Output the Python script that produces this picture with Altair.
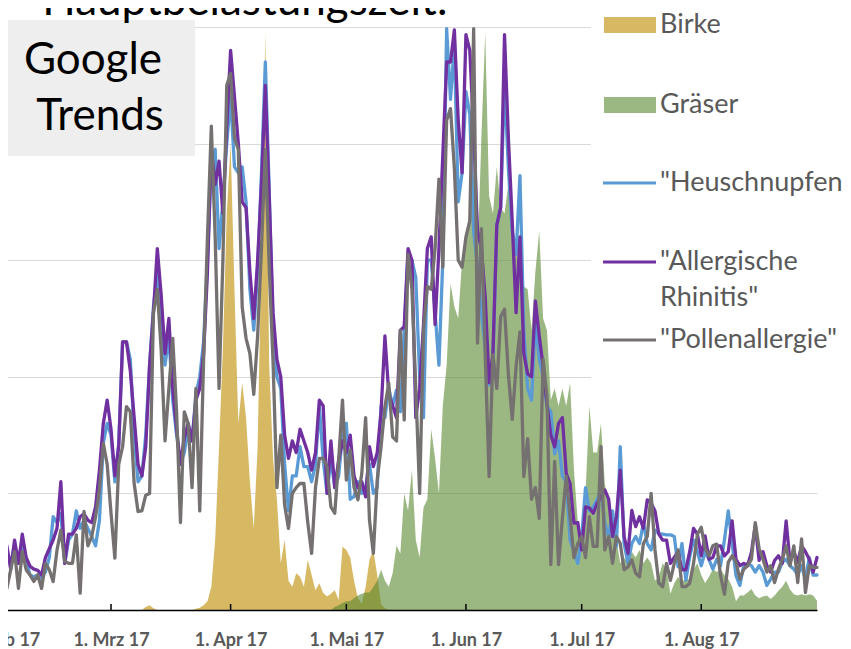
import altair as alt
import pandas as pd

# ---------------- data ----------------
start_date = "2017-02-01"
end_date = "2017-08-31"

# Pollen (Birke)
birke = ([0] * 37 + [0.5, 0.8, 0.3] + [0] * 10 +
         [0.2, 0.4, 0.8, 1.5, 4, 12, 28, 45, 68, 80,
          55, 32, 39, 33, 22, 14, 28, 62, 99, 42,
          26, 19, 8, 12, 5, 4, 6.3, 5.7, 4, 8.6,
          6, 3.4, 4.6, 2.9, 2.3, 2.8, 3.4, 1.7, 10.9, 10.3,
          9, 5, 2, 1.1, 4, 8.6, 10.3, 6, 1, 0.3] + [0] * 112)

# Pollen (Gräser)
graeser = ([0] * 86 +
           [0.5, 0.8, 1.2, 1.5, 1.5, 2, 2.5, 2.8, 3, 3, 4, 5, 6.9, 5, 4, 6.3, 11, 9.7, 20, 17, 24, 12] +
           [9, 17.6, 19, 31, 26, 20, 35, 42, 56, 52, 50, 60, 65, 68, 75, 60, 81, 99, 71, 68,
            76, 69, 68, 73, 64, 62, 58, 55.5, 55, 48, 58, 65, 50, 48, 36, 38] +
           [35, 38, 35, 39, 24, 15, 11.4, 20, 35, 27, 27, 32, 21.7, 18, 14, 12, 8, 9, 8, 10,
            9, 10.3, 8, 9, 8, 5, 5.7, 8, 7, 2.8, 4.6, 5.7, 4.6, 5.7, 5, 7, 8, 6, 4.6, 5.7] +
           [7, 6.5, 7, 6, 5.3, 4, 1.5, 2.5, 2.5, 3, 3.6, 2.5, 2, 2.3, 2.5, 1.9, 2.5, 3.3, 4, 5,
            3.5, 2.7, 2.5, 2.7, 2.5, 2.7, 2.5, 1.6])

# Google Trends "Heuschnupfen"
heuschnupfen = ([8, 10, 8, 11, 8, 12, 8.5, 6, 5.7, 6, 5.5, 6.5, 9, 16, 15, 16.5, 8, 12, 13, 17,
                 14, 15.4, 14, 12.6, 11, 15.4, 28.6, 32, 30, 22, 28.6, 46, 46, 43, 30, 22, 23, 30] +
                [42, 52, 58, 48, 42, 47, 36, 30, 25, 27, 31, 29, 37, 40, 46, 60, 77, 79, 62, 70,
                 80, 88, 76, 75, 76, 70, 55, 48, 58, 75, 94, 72, 48, 40, 38, 25, 17] +
                [23, 23, 28, 24.6, 24.6, 22, 25, 35, 25.7, 20, 26, 21, 23, 30, 32, 19, 19.5, 22, 20, 21,
                 25, 20, 21, 35, 33, 38, 35, 37.7, 34, 48, 61, 60, 57, 40, 33, 60] +
                [60, 51, 42, 60, 99.7, 87.6, 97, 70, 75, 88.9, 85, 65, 59, 51, 45, 38.6, 43, 66, 69, 90.8,
                 75.8, 65, 61, 74.5, 48, 38, 36, 49.7, 43, 40, 35, 34, 26.8] +
                [29, 23, 22, 12, 10, 8, 12.6, 21, 17, 17.7, 18.9, 20.6, 14.9, 12.6, 17, 10.9, 28, 11.4, 8, 11.4,
                 12.6, 11.4, 14.9, 11.4, 10.3, 13.7, 13.1, 13, 12.9, 12.9, 12.6, 7.4, 11.4, 5.1] +
                [9.1, 12, 10, 7.6, 10, 8.7, 7, 8.7, 7.6, 12, 17, 11.5, 5.9, 4.2, 7.6, 8, 7.6, 6.5, 7.6, 6.5,
                 4.2, 5.3, 6.5, 6.5, 8.2, 8.7, 7.6, 7, 6, 7.6, 5.3, 9, 6, 6])

# Google Trends "Allergische Rhinitis"
allergische = ([11, 11, 7, 12, 8, 13, 9, 7.5, 7, 6.8, 6, 9, 10.5, 12, 14, 22, 8, 13, 13, 14,
                16, 16.5, 15.4, 15, 17.7, 24, 32, 36, 31, 23, 28, 46, 46, 41, 33, 25, 23, 28] +
               [42, 51, 62, 54, 44, 50, 38, 31, 25, 29.5, 32, 29, 36, 38, 44, 58, 79, 73, 77, 68,
                83, 96, 88, 80, 70, 69, 58, 50, 60, 73, 90, 71, 51, 43, 40, 30, 26] +
               [29, 27, 31, 29, 27, 24, 27, 36, 35, 20, 29, 21, 25.7, 29, 27, 30, 23, 21, 22, 19.4,
                28, 24.6, 27, 34, 47, 37, 35, 33, 48, 48.6, 62, 60, 33, 38, 49, 62] +
               [64, 49, 62, 78, 94, 94, 99.5, 84, 75, 98.7, 96, 82, 65, 62, 53.6, 39, 44, 66, 69, 98.7,
                81, 66.7, 51, 64, 44, 40.5, 40, 53, 47, 41.8, 35.3, 30, 28] +
               [32, 33, 23.4, 21.7, 14.9, 15, 10.3, 17.7, 17.5, 16.6, 18.3, 19.4, 20.6, 19, 12.6, 16, 24, 12.6, 9.7, 17.1,
                14.3, 16, 14, 18.9, 18.3, 17, 13, 12, 12, 8, 9, 10, 6.9, 6.9] +
               [10, 14, 13, 9.3, 12.7, 8.7, 9, 11, 11, 9.3, 10, 15.3, 8.7, 7.6, 8, 7.6, 9.9, 14.5, 8.5, 10,
                7.6, 6.5, 8.5, 9.3, 8, 15.3, 8.2, 10, 8.2, 11, 10, 8.7, 6.5, 9])

# Google Trends "Pollenallergie"
pollenallergie = ([6.9, 3.7, 6.9, 10, 3.7, 10, 6.9, 6, 4.9, 6, 3.7, 8, 6.9, 4.9, 10.3, 13.7, 8.3, 8, 8, 12.9,
                   2.9, 16.9, 11, 12.6, 16, 20.6, 28.6, 25, 16.6, 8.9, 25, 28, 34.9, 34, 21.7, 16.9, 17, 19.7, 20] +
                  [51, 55, 44.6, 29, 38, 46.6, 34, 15, 34, 32, 21, 38, 17, 43, 64, 83, 64, 38, 60, 90,
                   92, 81, 79, 52, 46.6, 44, 37, 47, 62, 79, 59, 42.6, 21, 30, 18, 14] +
                  [20, 21, 21.7, 21.7, 15, 9.7, 21, 26, 26, 24.6, 17.7, 16.6, 25.7, 36, 22.3, 27.4, 21, 18.9, 23.4, 33,
                   15.4, 9.7, 22.3, 28, 34.9, 38.9, 29.7, 29, 48, 32.6, 61, 55, 38] +
                  [20, 48, 55.5, 55, 62, 73.9, 58.8, 84, 86, 75.8, 60, 58.8, 64, 66.7, 99.7, 45.8, 65.4, 43.8, 22.9, 43.8,
                   38, 50.3, 51.6, 40.5, 32.7, 41.8, 47.7, 22.9, 29.4, 19, 21, 15.7, 43, 36.6, 7.8, 25.5, 7.8, 15.7, 22.9, 16] +
                  [9, 11.4, 12.6, 9, 16, 10.9, 10.9, 28, 10.3, 12.6, 8, 12.6, 11.4, 6.9, 7.4, 8.6, 6.3, 5.7, 11.4, 12.6,
                   20, 10.3, 4.6, 4, 8, 5.1, 8, 10.3, 4, 4] +
                  [4.6, 8, 13, 14.2, 10.5, 9.3, 11, 11.3, 5.9, 2.7, 8.2, 9.3, 8.2, 5.3, 7, 7.6, 8.7, 15, 10.5, 8.7,
                   6.5, 7.6, 4.7, 7, 8.7, 11, 7.6, 11, 4.7, 12.2, 3, 7.6, 7.3, 7.3])

tick_dates = ["2017-02-01", "2017-03-01", "2017-04-01", "2017-05-01",
              "2017-06-01", "2017-07-01", "2017-08-01"]
tick_labels = ["1. Feb 17", "1. Mrz 17", "1. Apr 17", "1. Mai 17",
               "1. Jun 17", "1. Jul 17", "1. Aug 17"]
y_grid = [20, 40, 60, 80, 100]

title_text = "Hauptbelastungszeit:"
box_lines = ["Google", "Trends"]
legend_labels = ["Birke", "Gräser", '"Heuschnupfen"', '"Allergische', 'Rhinitis"', '"Pollenallergie"']

# ---------------- styles ----------------
GOLD = "#D7B964"
GREEN = "#58872F"
BLUE = "#5B9BD5"
PURPLE = "#7030A0"
GRAY = "#767171"
TXT = "#595959"
FONT = "Lato"

dates = pd.date_range(start_date, end_date, freq="D")
df = pd.DataFrame({
    "day": range(len(dates)),
    "date": dates.strftime("%Y-%m-%d"),
    "birke": birke,
    "graeser": graeser,
    "heu": heuschnupfen,
    "allerg": allergische,
    "pollen": pollenallergie,
})
t0 = pd.Timestamp(start_date)
tick_days = [(pd.Timestamp(t) - t0).days for t in tick_dates]
ticks_df = pd.DataFrame({"day": tick_days, "label": tick_labels})
one = pd.DataFrame({"k": [0]})

label_expr = ("[" + ",".join("'" + s + "'" for s in tick_labels) + "][indexof(["
              + ",".join(str(d) for d in tick_days) + "], datum.value)]")

xscale = alt.Scale(domain=[0, len(dates) - 1], nice=False, zero=False)
yscale = alt.Scale(domain=[0, 100], nice=False)
xaxis = alt.Axis(values=tick_days, labelExpr=label_expr, title=None, grid=False,
                 ticks=False, tickSize=0, domainColor="#000000", domainWidth=1.5,
                 labelFont=FONT, labelFontWeight="bold", labelFontSize=18,
                 labelColor=TXT, labelPadding=35, labelBaseline="alphabetic",
                 labelFlush=False, labelOverlap=False, zindex=1)
yaxis = alt.Axis(values=y_grid, labels=False, ticks=False, domain=False, title=None,
                 grid=True, gridColor="#D9D9D9", gridWidth=1)

X = alt.X("day:Q", scale=xscale, axis=xaxis)


def Y(field):
    return alt.Y(field + ":Q", scale=yscale, axis=yaxis)


base = alt.Chart(df)
layers = []

# white backing of the legend (hides gridlines there)
layers.append(alt.Chart(one).mark_rect(color="white").encode(
    x=alt.value(588), x2=alt.value(880), y=alt.value(-40), y2=alt.value(358)))

layers.append(base.mark_area(color=GOLD, interpolate="linear").encode(x=X, y=Y("birke")))
layers.append(base.mark_area(color=GREEN, opacity=0.6, interpolate="linear").encode(x=X, y=Y("graeser")))
for field, col in [("heu", BLUE), ("allerg", PURPLE), ("pollen", GRAY)]:
    layers.append(base.mark_line(color=col, strokeWidth=3.3, strokeJoin="round",
                                 strokeCap="round").encode(x=X, y=Y(field)))

# inside tick marks on the time axis
layers.append(alt.Chart(ticks_df).mark_rule(color="black", strokeWidth=1.5).encode(
    x=X, y=alt.value(577), y2=alt.value(584)))

# "Google Trends" box
layers.append(alt.Chart(one).mark_rect(color="#EEEEEE").encode(
    x=alt.value(0), x2=alt.value(192), y=alt.value(-7), y2=alt.value(129)))
layers.append(alt.Chart(one).mark_text(text=box_lines[0], font=FONT, fontSize=44, color="black",
                                       align="center", baseline="alphabetic").encode(
    x=alt.value(90), y=alt.value(47)))
layers.append(alt.Chart(one).mark_text(text=box_lines[1], font=FONT, fontSize=44, color="black",
                                       align="center", baseline="alphabetic").encode(
    x=alt.value(97), y=alt.value(103)))

# cut-off title
layers.append(alt.Chart(one).mark_text(text=title_text, font=FONT, fontSize=44, color="black",
                                       align="center", baseline="alphabetic").encode(
    x=alt.value(242), y=alt.value(-12)))

# legend
layers.append(alt.Chart(one).mark_rect(color=GOLD).encode(
    x=alt.value(601), x2=alt.value(653), y=alt.value(-10), y2=alt.value(6)))
layers.append(alt.Chart(one).mark_rect(color=GREEN, opacity=0.6).encode(
    x=alt.value(601), x2=alt.value(653), y=alt.value(70), y2=alt.value(86)))
for yy, col in [(156, BLUE), (235, PURPLE), (313, GRAY)]:
    layers.append(alt.Chart(one).mark_rule(color=col, strokeWidth=3).encode(
        x=alt.value(600), x2=alt.value(653), y=alt.value(yy)))
for text, yy in zip(legend_labels, [-2, 78, 156, 235, 271, 313]):
    layers.append(alt.Chart(one).mark_text(text=text, font=FONT, fontSize=27, color=TXT,
                                           align="left", baseline="middle").encode(
        x=alt.value(657), y=alt.value(yy)))

chart = alt.layer(*layers).properties(
    width=814, height=583,
    autosize=alt.AutoSizeParams(type="none"),
    padding={"left": -5, "top": 19, "right": 26, "bottom": 39},
    background="white",
).configure_view(stroke=None)

chart.save("out.html", embed_options={"renderer": "svg", "actions": False})
